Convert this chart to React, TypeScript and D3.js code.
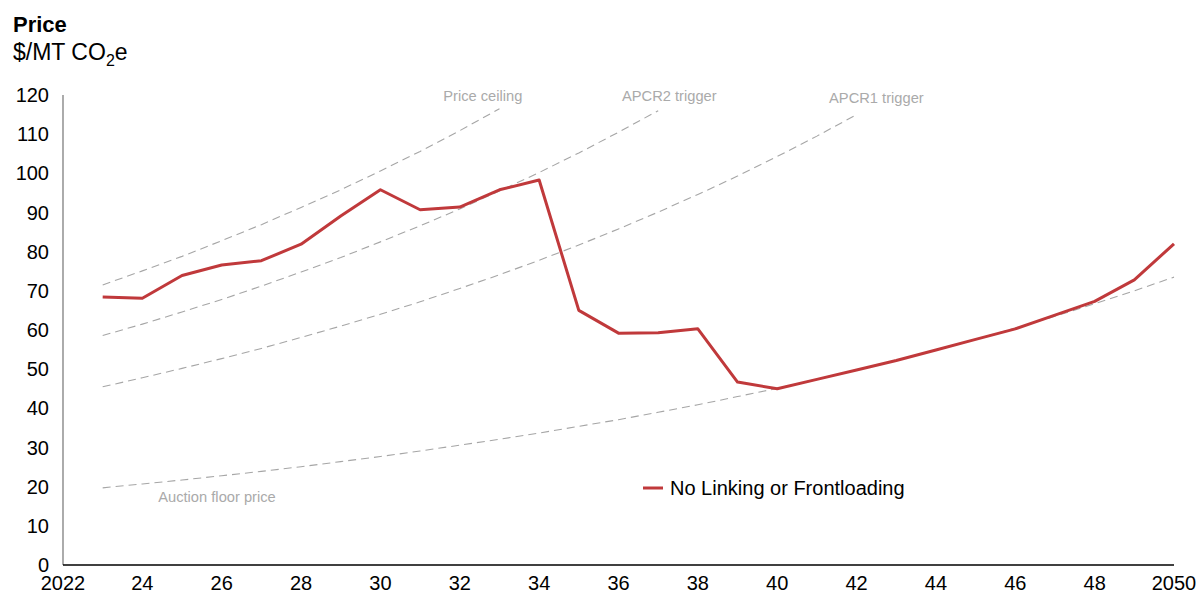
import React from "react";
import * as d3 from "d3";

const years = d3.range(2023, 2051);
const priceNoLinking = [68.4, 68.1, 73.9, 76.6, 77.7, 81.9, 89.1, 95.8, 90.7, 91.4, 95.8, 98.3, 65.0, 59.2, 59.3, 60.3, 46.7, 45.0, 47.4, 49.8, 52.2, 54.9, 57.6, 60.3, 63.8, 67.3, 72.8, 82.0];
const priceCeiling = [71.5, 75.1, 78.8, 82.8, 86.9, 91.3, 95.8, 100.6, 105.6, 110.9, 116.5];
const apcr2Trigger = [58.6, 61.5, 64.6, 67.8, 71.2, 74.8, 78.5, 82.5, 86.6, 90.9, 95.5, 100.2, 105.2, 110.5, 116.0];
const apcr1Trigger = [45.5, 47.8, 50.2, 52.7, 55.3, 58.1, 61.0, 64.0, 67.2, 70.6, 74.1, 77.8, 81.7, 85.8, 90.1, 94.6, 99.3, 104.3, 109.5, 115.0];
const floorPrice = [19.7, 20.7, 21.7, 22.8, 23.9, 25.1, 26.4, 27.7, 29.1, 30.6, 32.1, 33.7, 35.4, 37.1, 39.0, 40.9, 43.0, 45.1, 47.4, 49.8, 52.2, 54.9, 57.6, 60.5, 63.5, 66.7, 70.0, 73.5];
const yTicks = [0, 10, 20, 30, 40, 50, 60, 70, 80, 90, 100, 110, 120];
const xTicks = [2022, 2024, 2026, 2028, 2030, 2032, 2034, 2036, 2038, 2040, 2042, 2044, 2046, 2048, 2050];
const xTickLabels = ["2022", "24", "26", "28", "30", "32", "34", "36", "38", "40", "42", "44", "46", "48", "2050"];

const W = 1198, H = 593;
const FONT = "'Liberation Sans', Arial, sans-serif";

export default function App() {
  const x = d3.scaleLinear().domain([2022, 2050]).range([63, 1174]);
  const y = d3.scaleLinear().domain([0, 120]).range([565, 95]);
  const line = d3.line<[number, number]>().x(d => x(d[0])).y(d => y(d[1]));
  const toPts = (vals: number[]) => vals.map((v, i) => [years[i], v] as [number, number]);

  const dashed = [priceCeiling, apcr2Trigger, apcr1Trigger, floorPrice];

  return (
    <svg width={W} height={H} style={{ position: "absolute", left: 0, top: 0, display: "block" }} fontFamily={FONT}>
      <rect width={W} height={H} fill="#fff" />
      <text x={13} y={32} fontSize={22} fontWeight="bold" fill="#000">Price</text>
      <text x={13} y={60} fontSize={23} fill="#000">
        $/MT CO<tspan fontSize={16} dy={6}>2</tspan><tspan dy={-6}>e</tspan>
      </text>

      {yTicks.map(t => (
        <text key={t} x={49} y={y(t) + 7} fontSize={20} textAnchor="end" fill="#000">{t}</text>
      ))}
      {xTicks.map((t, i) => (
        <text key={t} x={x(t)} y={590} fontSize={20} textAnchor="middle" fill="#000">{xTickLabels[i]}</text>
      ))}

      {dashed.map((s, i) => (
        <path key={i} d={line(toPts(s)) || ""} fill="none" stroke="#a6a6a6" strokeWidth={1.1} strokeDasharray="8,5" />
      ))}

      <text x={x(2032.58)} y={y(119) + 2} fontSize={14.7} textAnchor="middle" fill="#aaaaaa">Price ceiling</text>
      <text x={x(2037.28)} y={y(119) + 2} fontSize={14.7} textAnchor="middle" fill="#aaaaaa">APCR2 trigger</text>
      <text x={x(2042.5)} y={y(118)} fontSize={14.7} textAnchor="middle" fill="#aaaaaa">APCR1 trigger</text>
      <text x={x(2024.4)} y={y(17) + 4} fontSize={14.7} textAnchor="start" fill="#aaaaaa">Auction floor price</text>

      <line x1={63} x2={63} y1={y(120)} y2={y(0)} stroke="#7f7f7f" strokeWidth={1.3} />
      <line x1={63} x2={x(2050)} y1={y(0)} y2={y(0)} stroke="#000" strokeWidth={1.3} />

      <path d={line(toPts(priceNoLinking)) || ""} fill="none" stroke="#c0393b" strokeWidth={3} strokeLinejoin="round" />

      <line x1={643} x2={663} y1={488} y2={488} stroke="#c0393b" strokeWidth={3} />
      <text x={670} y={495} fontSize={20} fill="#000">No Linking or Frontloading</text>
    </svg>
  );
}
